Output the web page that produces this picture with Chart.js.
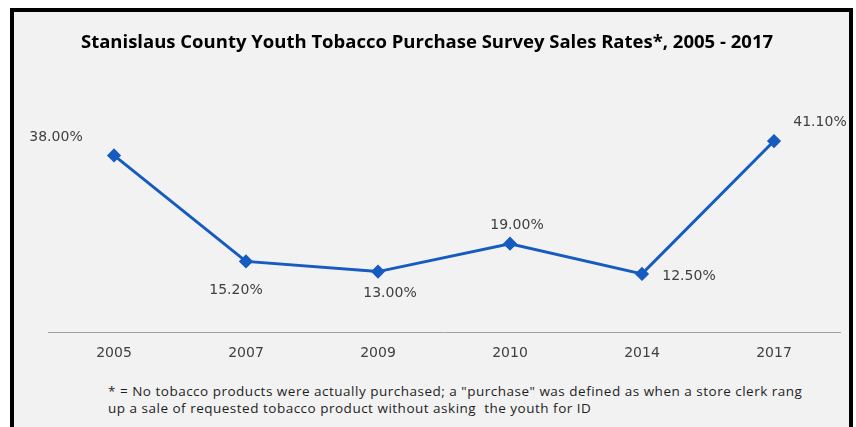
<!DOCTYPE html>
<html lang="en">
<head>
  <meta charset="UTF-8">
  <title>Stanislaus County Youth Tobacco Purchase Survey</title>
  <script src="https://cdn.jsdelivr.net/npm/chart.js"></script>
  <style>
    body { margin: 0; background: #fff; width: 856px; height: 427px; overflow: hidden; position: relative; }
    .frame {
      position: absolute; left: 10px; top: 8px;
      width: 835px; height: 440px;
      border: 4px solid #000; background: #f2f2f2;
    }
    .chart-box { position: absolute; left: 0; top: 0; width: 834px; height: 368px; }
    .note {
      position: absolute; left: 94px; top: 371px;
      font-family: "Open Sans", "Liberation Sans", sans-serif; font-size: 13.5px;
      line-height: 17px; color: #1e1e1e; letter-spacing: 0.5px;
    }
  </style>
</head>
<body>
  <div class="frame">
    <div class="chart-box"><canvas id="chart-rates"></canvas></div>
    <div class="note">* = No tobacco products were actually purchased; a "purchase" was defined as when a store clerk rang<br>up a sale of requested tobacco product without asking&nbsp; the youth for ID</div>
  </div>

<script>
// données
const years = ['2005', '2007', '2009', '2010', '2014', '2017'];
const salesRates = [38.0, 15.2, 13.0, 19.0, 12.5, 41.1];
const rateLabels = ['38.00%', '15.20%', '13.00%', '19.00%', '12.50%', '41.10%'];

// décalage de chaque étiquette par rapport à son point
const labelOffsets = [[-58, -18], [-10, 29], [12, 22], [7, -18], [47, 2], [46, -19]];

const pointLabels = {
  id: 'pointLabels',
  afterDatasetsDraw(chart) {
    const ctx = chart.ctx;
    const meta = chart.getDatasetMeta(0);
    ctx.save();
    ctx.font = '14px "DejaVu Sans", Verdana, sans-serif';
    ctx.fillStyle = '#404040';
    ctx.textAlign = 'center';
    ctx.textBaseline = 'middle';
    meta.data.forEach((pt, i) => {
      const [dx, dy] = labelOffsets[i];
      ctx.fillText(rateLabels[i], pt.x + dx, pt.y + dy);
    });
    ctx.restore();
  }
};

const ctx = document.getElementById('chart-rates').getContext('2d');
new Chart(ctx, {
  type: 'line',
  data: {
    labels: years,
    datasets: [{
      label: 'Sales rate',
      data: salesRates,
      borderColor: '#165bc0',
      backgroundColor: '#165bc0',
      borderWidth: 3,
      pointStyle: 'rectRot',
      pointRadius: 5,
      pointHoverRadius: 5,
      tension: 0
    }]
  },
  options: {
    responsive: true,
    maintainAspectRatio: false,
    animation: false,
    layout: { padding: { left: 0, right: 8, top: 0, bottom: 6 } },
    plugins: {
      legend: { display: false },
      tooltip: { enabled: false },
      title: {
        display: true,
        text: 'Stanislaus County Youth Tobacco Purchase Survey Sales Rates*, 2005 - 2017',
        color: '#000',
        font: { family: '"Open Sans", "Liberation Sans", sans-serif', size: 18.5, weight: 'bold' },
        padding: { top: 19.5, bottom: 46 }
      }
    },
    scales: {
      x: {
        offset: true,
        grid: { display: false, drawTicks: false },
        border: { display: true, color: '#a0a0a0', width: 1 },
        ticks: {
          color: '#404040',
          padding: 12.6,
          font: { family: '"DejaVu Sans", Verdana, sans-serif', size: 14 }
        }
      },
      y: {
        min: 0, max: 50,
        grid: { display: false },
        border: { display: false },
        ticks: { display: false },
        afterFit(scale) { scale.width = 34; }
      }
    }
  },
  plugins: [pointLabels]
});
</script>
</body>
</html>
